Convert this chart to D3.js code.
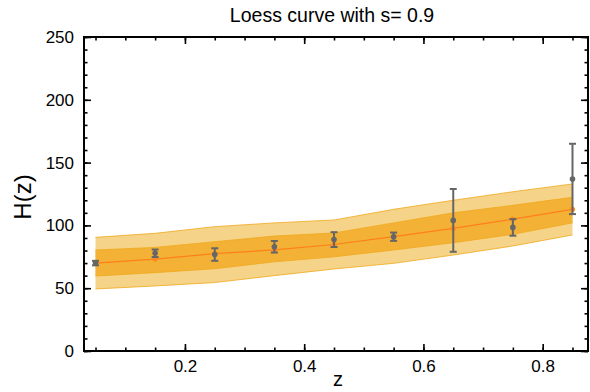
<!DOCTYPE html>
<html>
<head>
<meta charset="utf-8">
<script src="https://cdn.jsdelivr.net/npm/d3@7"></script>
<style>
  body { margin: 0; background: #fff; }
  svg { font-family: "Liberation Sans", Arial, sans-serif; }
</style>
</head>
<body>
<div id="chart"></div>
<script>
// data
const zValues = [0.05, 0.15, 0.25, 0.35, 0.45, 0.55, 0.65, 0.75, 0.85];
const hObserved = [70, 77.8, 76.8, 83, 88.7, 91, 104, 98.4, 137];
const hError = [1.8, 3, 5, 4.6, 5.9, 3.3, 25, 6.6, 28];
const loessFit = [70, 73.2, 77.5, 80.5, 84.8, 91, 97.6, 105, 112.8];
const band1Upper = [80.4, 82.5, 87, 91.5, 94, 102, 110, 116, 122.4];
const band1Lower = [59.7, 62.4, 65.5, 71, 75, 80.4, 86.2, 92.9, 102];
const band2Upper = [90.5, 93.7, 99, 102, 104.3, 112.8, 120, 126.8, 133];
const band2Lower = [49.4, 51.8, 54.5, 60, 65.3, 69.8, 76.4, 83.6, 92.4];
const xTicks = [0.2, 0.4, 0.6, 0.8];
const yTicks = [0, 50, 100, 150, 200, 250];

const W = 590, H = 392;
const margin = { top: 37, right: 2, bottom: 41, left: 84 };
const width = W - margin.left - margin.right;
const height = H - margin.top - margin.bottom;

const svg = d3.select('#chart').append('svg')
  .attr('width', W).attr('height', H);

const g = svg.append('g')
  .attr('transform', `translate(${margin.left},${margin.top})`);

const x = d3.scaleLinear().domain([0.0307, 0.876]).range([0, width]);
const y = d3.scaleLinear().domain([0, 250]).range([height, 0]);

const rows = zValues.map((z, i) => ({
  z, h: hObserved[i], e: hError[i], fit: loessFit[i],
  u1: band1Upper[i], l1: band1Lower[i], u2: band2Upper[i], l2: band2Lower[i]
}));

// confidence bands
const area2 = d3.area().x(d => x(d.z)).y0(d => y(d.l2)).y1(d => y(d.u2));
const area1 = d3.area().x(d => x(d.z)).y0(d => y(d.l1)).y1(d => y(d.u1));
g.append('path').datum(rows).attr('d', area2).attr('fill', '#f5d389');
g.append('path').datum(rows).attr('d', area1).attr('fill', '#f3b236');

const edge = key => d3.line().x(d => x(d.z)).y(d => y(d[key]));
['u2', 'l2', 'u1', 'l1'].forEach(k => {
  g.append('path').datum(rows).attr('d', edge(k))
    .attr('fill', 'none').attr('stroke', '#f0a81c').attr('stroke-width', 0.8);
});

// loess line
g.append('path').datum(rows).attr('d', edge('fit'))
  .attr('fill', 'none').attr('stroke', '#ff7f1a').attr('stroke-width', 1.2);

g.selectAll('.fitpt').data(rows).enter().append('circle')
  .attr('class', 'fitpt')
  .attr('cx', d => x(d.z)).attr('cy', d => y(d.fit)).attr('r', 2.6)
  .attr('fill', '#ff8a1e');

// error bars
const eb = g.selectAll('.eb').data(rows).enter().append('g').attr('class', 'eb')
  .attr('stroke', '#666').attr('stroke-width', 2);
eb.append('line')
  .attr('x1', d => x(d.z)).attr('x2', d => x(d.z))
  .attr('y1', d => y(d.h - d.e)).attr('y2', d => y(d.h + d.e));
eb.append('line')
  .attr('x1', d => x(d.z) - 3.5).attr('x2', d => x(d.z) + 3.5)
  .attr('y1', d => y(d.h - d.e)).attr('y2', d => y(d.h - d.e));
eb.append('line')
  .attr('x1', d => x(d.z) - 3.5).attr('x2', d => x(d.z) + 3.5)
  .attr('y1', d => y(d.h + d.e)).attr('y2', d => y(d.h + d.e));
g.selectAll('.obs').data(rows).enter().append('circle')
  .attr('class', 'obs')
  .attr('cx', d => x(d.z)).attr('cy', d => y(d.h)).attr('r', 2.8)
  .attr('fill', '#666');

// frame and inward ticks
const xMinor = d3.range(0.05, 0.876, 0.05).map(v => +v.toFixed(2));
const yMinor = d3.range(0, 251, 10);

const addAxis = (axis, transform, cls) => {
  const a = g.append('g').attr('class', cls).attr('transform', transform).call(axis);
  a.select('.domain').remove();
  a.selectAll('line').attr('stroke', '#000').attr('stroke-width', 1.6);
  a.selectAll('text').attr('fill', '#000').style('font-size', '17px');
  return a;
};

// minor ticks
addAxis(d3.axisBottom(x).tickValues(xMinor).tickSize(-3.5).tickFormat(''), `translate(0,${height})`, 'xminor');
addAxis(d3.axisTop(x).tickValues(xMinor).tickSize(-3.5).tickFormat(''), 'translate(0,0)', 'xminor-top');
addAxis(d3.axisLeft(y).tickValues(yMinor).tickSize(-3.5).tickFormat(''), 'translate(0,0)', 'yminor');
addAxis(d3.axisRight(y).tickValues(yMinor).tickSize(-3.5).tickFormat(''), `translate(${width},0)`, 'yminor-right');

// major ticks
addAxis(d3.axisBottom(x).tickValues(xTicks).tickSize(-7).tickPadding(9).tickFormat(d3.format('.1f')),
  `translate(0,${height})`, 'xaxis');
addAxis(d3.axisTop(x).tickValues(xTicks).tickSize(-7).tickFormat(''), 'translate(0,0)', 'xaxis-top');
addAxis(d3.axisLeft(y).tickValues(yTicks).tickSize(-7).tickPadding(10).tickFormat(d3.format('d')),
  'translate(0,0)', 'yaxis');
addAxis(d3.axisRight(y).tickValues(yTicks).tickSize(-7).tickFormat(''), `translate(${width},0)`, 'yaxis-right');

g.append('rect')
  .attr('x', 0).attr('y', 0).attr('width', width).attr('height', height)
  .attr('fill', 'none').attr('stroke', '#000').attr('stroke-width', 2);

// labels
svg.append('text')
  .attr('x', 332).attr('y', 22)
  .attr('text-anchor', 'middle').style('font-size', '19.5px')
  .text('Loess curve with s= 0.9');

svg.append('text')
  .attr('x', 338).attr('y', 386)
  .attr('text-anchor', 'middle').style('font-size', '20px')
  .text('z');

svg.append('text')
  .attr('transform', `translate(31,197) rotate(-90)`)
  .attr('text-anchor', 'middle').style('font-size', '24px')
  .text('H(z)');
</script>
</body>
</html>
